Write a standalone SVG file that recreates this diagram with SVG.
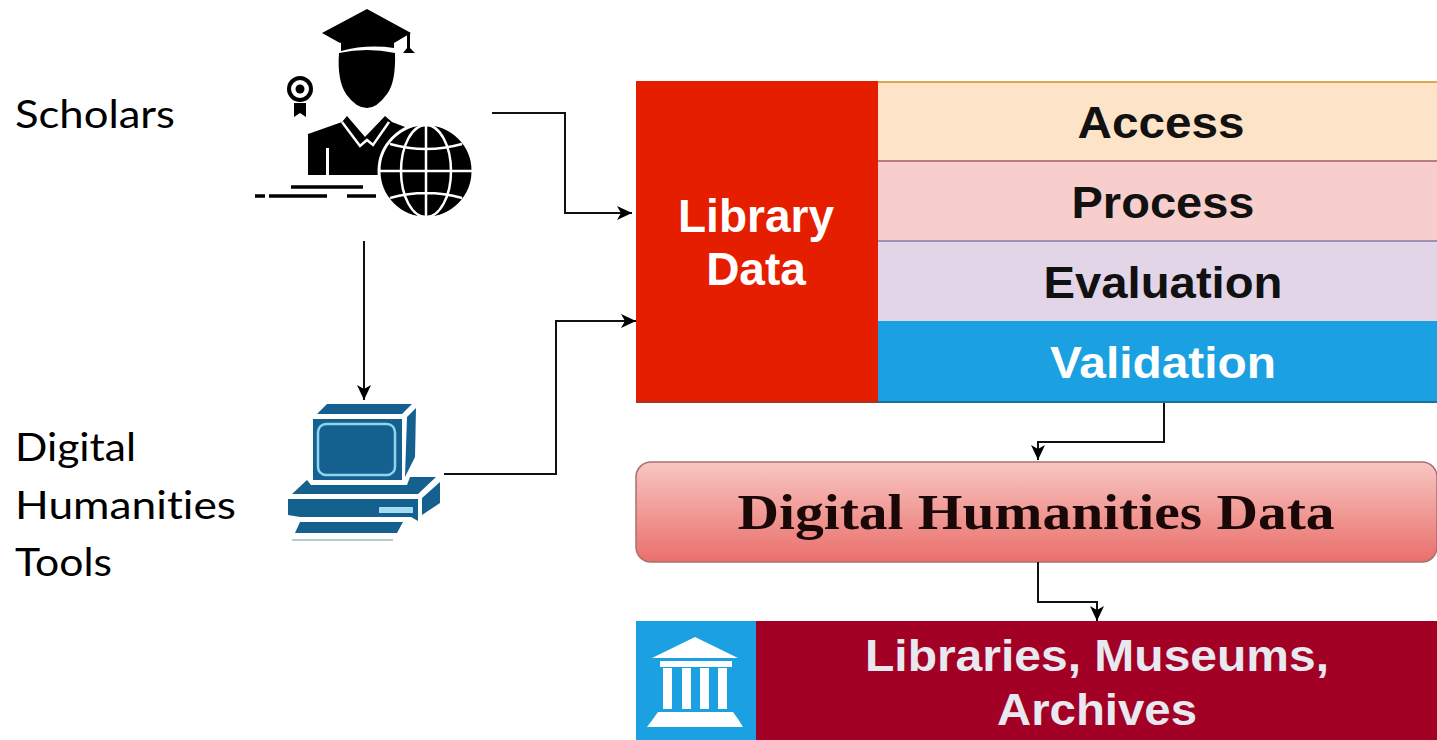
<svg xmlns="http://www.w3.org/2000/svg" width="1437" height="740" viewBox="0 0 1437 740">
<style>
.side{font-family:"Lato","Open Sans",sans-serif;font-size:39px;fill:#000;font-variant-ligatures:none}
.b{font-family:"Liberation Sans",Arial,sans-serif;font-weight:bold;font-size:44px;text-anchor:middle}
.c{fill:none;stroke:#111;stroke-width:2}
.w{fill:none;stroke:#fff;stroke-width:2.500}
.blue{fill:#14618f}
</style>
<defs>
<marker id="ah" markerUnits="userSpaceOnUse" markerWidth="17" markerHeight="16" refX="15" refY="7" orient="auto"><path d="M0 0L15 7L0 14L4 7Z" fill="#000"/></marker>
<linearGradient id="g" x1="0" y1="0" x2="0" y2="1"><stop offset="0" stop-color="#f8c6c2"/><stop offset="1" stop-color="#ea6f6b"/></linearGradient>
</defs>
<rect width="1437" height="740" fill="#fff"/>
<g id="label-scholars"><text class="side" x="15" y="128" textLength="160" lengthAdjust="spacingAndGlyphs">Scholars</text></g>
<g id="label-tools"><text class="side" x="15" y="461" textLength="121" lengthAdjust="spacingAndGlyphs">Digital</text><text class="side" x="15" y="519" textLength="221" lengthAdjust="spacingAndGlyphs">Humanities</text><text class="side" x="15" y="576" textLength="97" lengthAdjust="spacingAndGlyphs">Tools</text></g>
<g id="scholar-icon">
<path d="M367 9L322 33L340 43Q367 27 394 43L411 33Z" fill="#000"/>
<path d="M341 37Q367 29 394 39L394 48Q367 44 341 51Z" fill="#000"/>
<path d="M339 53Q367 47 395 53Q396 82 387 94Q377 108 367 108Q356 108 346 94Q337 80 339 53Z" fill="#000"/>
<path d="M407 33L407 48L403 53L415 53L410 48L410 33Z" fill="#000"/>
<circle cx="300" cy="89" r="11" fill="none" stroke="#000" stroke-width="4"/><circle cx="300" cy="89" r="4.500" fill="#000"/>
<path d="M294 103L306 103L306 117L300 113L294 117Z" fill="#000"/>
<path d="M308 134L342 122L347 116L365 137L385 116L392 122L405 127L405 175L329 175L329 148L326 148L326 175L308 175Z" fill="#000"/>
<path d="M342 122L360 146L367 140L373 145L389 122" fill="none" stroke="#fff" stroke-width="2.500"/>
<circle cx="426" cy="171" r="47" fill="#000" stroke="#fff" stroke-width="3"/>
<g class="w"><ellipse cx="426" cy="171" rx="25" ry="46"/><path d="M426 125V217M379 171H473M390 144Q426 154 462 144M390 198Q426 188 462 198"/></g>
<path d="M291 187H363M255 196H265M269 196H327M347 196H376" stroke="#000" stroke-width="3.500" fill="none"/>
</g>
<g id="computer-icon">
<path class="blue" d="M327 404L412 404L402 414L317 414Z"/>
<path class="blue" d="M407 417L416 408L415 457L405 477Z"/>
<rect class="blue" x="313" y="419" width="89" height="61"/>
<rect x="318" y="424" width="77" height="51" rx="8" fill="#14618f" stroke="#8fd3ee" stroke-width="2.500"/>
<path class="blue" d="M307 480L311 485L407 485L410 477L436 477L418 494L292 494Z"/>
<path class="blue" d="M288 499L418 499L418 521L411 517L300 517L288 515Z"/>
<path class="blue" d="M422 498L440 482L440 503L422 515Z"/>
<rect x="379" y="507" width="34" height="6" fill="#a6dcf0"/>
<path class="blue" d="M300 522L403 522L397 533L295 533Z"/>
<path d="M292 540H393" stroke="#9fb9cb" stroke-width="1.500"/>
</g>
<g id="library-data"><rect x="636" y="81" width="242" height="322" fill="#e51e00"/><rect x="636" y="401" width="242" height="2" fill="#a32"/>
<text class="b" x="756" y="232" fill="#fff" style="font-size:46px">Library</text><text class="b" x="756" y="285" fill="#fff" style="font-size:46px">Data</text></g>
<g id="access"><rect x="878" y="81" width="559" height="80" fill="#fde3c8"/><path d="M878 82H1437" stroke="#d9a94f" stroke-width="2"/><text class="b" x="1161" y="138" fill="#111" textLength="167" lengthAdjust="spacingAndGlyphs">Access</text></g>
<g id="process"><rect x="878" y="161" width="559" height="80" fill="#f8cecc"/><path d="M878 161H1437" stroke="#b87f83" stroke-width="2"/><text class="b" x="1163" y="218" fill="#111" textLength="183" lengthAdjust="spacingAndGlyphs">Process</text></g>
<g id="evaluation"><rect x="878" y="241" width="559" height="80" fill="#e1d5e7"/><path d="M878 241H1437" stroke="#a08fb0" stroke-width="2"/><text class="b" x="1163" y="298" fill="#111" textLength="239" lengthAdjust="spacingAndGlyphs">Evaluation</text></g>
<g id="validation"><rect x="878" y="321" width="559" height="82" fill="#1ba1e2"/><path d="M878 402H1437" stroke="#1a6f9c" stroke-width="2"/><text class="b" x="1163" y="378" fill="#fff" textLength="226" lengthAdjust="spacingAndGlyphs">Validation</text></g>
<g id="dh-data"><rect x="636" y="462" width="801" height="100" rx="15" fill="url(#g)" stroke="#a87070" stroke-width="1.500"/><text x="1036" y="529" text-anchor="middle" font-family="'Liberation Serif',serif" font-weight="bold" font-size="50" fill="#1a0808" textLength="597" lengthAdjust="spacingAndGlyphs">Digital Humanities Data</text></g>
<g id="archives"><rect x="636" y="621" width="120" height="119" fill="#1ba1e2"/><rect x="756" y="621" width="681" height="119" fill="#a20025"/>
<g fill="#fff"><path d="M695 637L738 658L652 658Z"/><rect x="660" y="661" width="72" height="6"/><rect x="663" y="668" width="9" height="41"/><rect x="682" y="668" width="9" height="41"/><rect x="700" y="668" width="9" height="41"/><rect x="718" y="668" width="9" height="41"/><path d="M658 712H733L738 719L743 727H647L653 719Z"/></g>
<text class="b" x="1097" y="671" fill="#e8e8f0" textLength="464" lengthAdjust="spacingAndGlyphs">Libraries, Museums,</text><text class="b" x="1097" y="725" fill="#e8e8f0" textLength="200" lengthAdjust="spacingAndGlyphs">Archives</text></g>
<g id="connectors">
<path class="c" d="M492 113H565V213H632" marker-end="url(#ah)"/>
<path class="c" d="M364 241V400" marker-end="url(#ah)"/>
<path class="c" d="M444 474H556V321H636" marker-end="url(#ah)"/>
<path class="c" d="M1164 403V442H1038V460" marker-end="url(#ah)"/>
<path class="c" d="M1038 562V602H1097V621" marker-end="url(#ah)"/>
</g>
</svg>
